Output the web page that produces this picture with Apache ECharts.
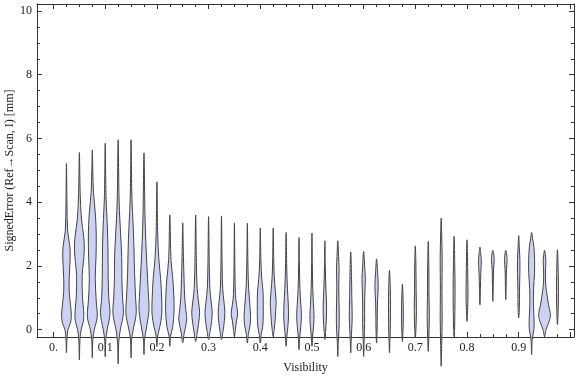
<!DOCTYPE html>
<html>
<head>
<meta charset="utf-8">
<script src="https://cdn.jsdelivr.net/npm/echarts@6/dist/echarts.min.js"></script>
<style>
  html, body { margin: 0; padding: 0; background: #fff; }
  #main { width: 576px; height: 377px; }
</style>
</head>
<body>
<div id="main"></div>
<script>
// violin centres (Visibility bins)
var positions = [0.025, 0.05, 0.075, 0.1, 0.125, 0.15, 0.175, 0.2, 0.225, 0.25,
  0.275, 0.3, 0.325, 0.35, 0.375, 0.4, 0.425, 0.45, 0.475, 0.5,
  0.525, 0.55, 0.575, 0.6, 0.625, 0.65, 0.675, 0.7, 0.725, 0.75,
  0.775, 0.8, 0.825, 0.85, 0.875, 0.9, 0.925, 0.95, 0.975];

// density profile of each violin: [signed error, relative half width]
var profiles = [
  [[-0.73,0],[-0.3,0.5],[0,1.5],[0.2,4],[0.45,5],[0.8,4],[1.2,2.8],[1.6,2.8],[2.2,3.7],[2.6,3.5],[3.1,1.2],[4,0.5],[5.22,0]],
  [[-0.95,0],[-0.3,0.6],[0,1.8],[0.3,4.3],[0.6,4.3],[1.0,3.2],[1.7,2.8],[2.1,4],[2.5,5],[2.9,4.5],[3.5,2],[4.3,0.8],[5.56,0]],
  [[-0.88,0],[-0.3,0.6],[0,2],[0.4,5],[0.9,4],[1.6,3],[2.3,3.8],[3.0,4],[3.6,3.2],[4.3,1.2],[5.0,0.5],[5.64,0]],
  [[-0.85,0],[-0.3,0.6],[0,2],[0.5,4.8],[1.0,3.6],[1.7,3],[2.5,2.8],[3.2,2.2],[4.2,0.8],[5.85,0]],
  [[-1.07,0],[-0.4,0.6],[0,2.2],[0.5,5.3],[1.0,4.5],[1.6,3.8],[2.3,3.6],[3.0,2.5],[4.0,1],[5.96,0]],
  [[-0.88,0],[-0.3,0.6],[0,2.2],[0.5,5.2],[1.0,4.6],[1.8,3.5],[2.5,3],[3.2,2.2],[4.2,0.8],[5.96,0]],
  [[-0.78,0],[-0.3,0.6],[0,2.2],[0.6,5],[1.2,4.3],[2.0,3],[2.8,1.8],[3.6,1],[5.55,0]],
  [[-0.53,0],[-0.2,0.8],[0.1,3],[0.5,5],[1.0,4.8],[1.6,3.8],[2.2,2],[3.0,0.8],[4.64,0]],
  [[-0.52,0],[-0.2,0.8],[0.1,3],[0.6,4.3],[1.1,4],[1.6,3],[2.2,1.2],[3.6,0]],
  [[-0.41,0],[-0.1,1.5],[0.3,4],[0.6,3.2],[1.0,2],[1.6,1.3],[2.3,0.7],[3.35,0]],
  [[-0.37,0],[-0.1,1.5],[0.2,3],[0.55,4],[0.9,2.8],[1.3,1.5],[2.0,0.8],[3.6,0]],
  [[-0.31,0],[-0.05,1.5],[0.25,3],[0.55,3.7],[0.9,2.5],[1.3,1.3],[2.0,0.7],[3.55,0]],
  [[-0.31,0],[-0.05,1.5],[0.25,2.8],[0.55,3.4],[0.9,2.4],[1.3,1.2],[2.0,0.6],[3.57,0]],
  [[-0.21,0],[0,1],[0.3,2.2],[0.5,3.3],[0.8,2],[1.1,1],[1.8,0.5],[3.35,0]],
  [[-0.42,0],[-0.15,1],[0.15,2.8],[0.4,3.3],[0.8,2.5],[1.3,1.3],[2.0,0.6],[3.34,0]],
  [[-0.42,0],[-0.15,1],[0.1,2.5],[0.4,3],[0.8,3],[1.2,2.8],[1.6,1.5],[2.2,0.6],[3.19,0]],
  [[-0.21,0],[0,1],[0.3,2],[0.6,2.5],[0.85,3],[1.2,2.2],[1.7,1],[2.3,0.5],[3.19,0]],
  [[-0.52,0],[-0.2,0.8],[0.1,1.8],[0.4,2.4],[0.8,2.2],[1.3,1.3],[2.0,0.6],[3.05,0]],
  [[-0.63,0],[-0.25,0.7],[0.1,1.8],[0.45,2.4],[0.8,1.8],[1.3,0.9],[2.0,0.4],[2.89,0]],
  [[-0.52,0],[-0.2,0.7],[0.1,1.6],[0.4,2.1],[0.8,1.5],[1.3,0.8],[2.0,0.4],[3.03,0]],
  [[-0.31,0],[-0.05,0.7],[0.3,1.5],[0.8,1.7],[1.3,1],[2.0,0.4],[2.79,0]],
  [[-0.84,0],[-0.4,0.5],[0,1.2],[0.4,1.5],[0.9,1.2],[1.4,1],[1.9,1.3],[2.3,0.8],[2.79,0]],
  [[-0.73,0],[-0.3,0.5],[0,1],[0.4,1.5],[1.0,1.1],[1.7,0.8],[2.44,0]],
  [[-0.84,0],[-0.3,0.5],[0.2,1],[0.8,1],[1.3,1.4],[1.6,1.7],[2.0,1],[2.45,0]],
  [[-0.42,0],[-0.1,0.5],[0.4,0.7],[0.9,1],[1.35,1.7],[1.8,1],[2.22,0]],
  [[-0.73,0],[-0.3,0.5],[0.2,0.9],[0.8,1],[1.3,0.8],[1.86,0]],
  [[-0.37,0],[-0.1,0.5],[0.3,0.9],[0.8,0.8],[1.43,0]],
  [[-0.26,0],[0,0.6],[0.6,1.1],[1.2,0.8],[2.0,0.6],[2.63,0]],
  [[-0.68,0],[-0.3,0.5],[0.4,1.1],[1.0,0.8],[2.0,0.6],[2.77,0]],
  [[-1.15,0],[-0.5,0.5],[0.4,1],[1.2,0.8],[2.3,1],[3.0,0.5],[3.5,0]],
  [[-0.21,0],[0,0.5],[0.6,0.8],[1.2,1],[2.0,0.7],[2.93,0]],
  [[0.26,0],[0.6,0.6],[1.1,1],[1.6,0.8],[2.3,0.5],[2.82,0]],
  [[0.78,0],[1.3,0.5],[1.8,0.9],[2.15,1.4],[2.4,0.8],[2.59,0]],
  [[0.89,0],[1.4,0.4],[1.9,0.7],[2.2,1.4],[2.49,0]],
  [[0.94,0],[1.4,0.4],[1.9,0.7],[2.2,1.3],[2.49,0]],
  [[0.37,0],[0.7,0.7],[1.2,0.8],[1.8,1.2],[2.2,1.2],[2.6,0.6],[2.95,0]],
  [[-0.78,0],[-0.3,0.6],[0,2.3],[0.3,2.5],[0.8,1.8],[1.3,2],[1.8,3],[2.2,3],[2.6,2.3],[2.85,1],[3.05,0]],
  [[-0.21,0],[0,1.5],[0.2,4],[0.45,6],[0.8,4],[1.2,2],[1.5,1],[1.9,1],[2.15,1.4],[2.35,0.8],[2.49,0]],
  [[0.16,0],[0.6,0.7],[1.2,1],[1.8,0.8],[2.51,0]]
];

// axis ticks
var xMajor = [0, 0.1, 0.2, 0.3, 0.4, 0.5, 0.6, 0.7, 0.8, 0.9, 1.0];
var xLabels = ['0.', '0.1', '0.2', '0.3', '0.4', '0.5', '0.6', '0.7', '0.8', '0.9'];
var yMajor = [0, 2, 4, 6, 8, 10];
var yLabels = ['0', '2', '4', '6', '8', '10'];

var xMin = -0.032, xMax = 1.007;
var yMin = -0.23, yMax = 10.22;
var widthScale = 0.0019;   // x data units per unit of relative width

var xMinor = [];
for (var k = 0; k <= 40; k++) {
  if (k % 4 !== 0) xMinor.push(Math.round(k * 0.025 * 1000) / 1000);
}
var yMinor = [];
for (var m = 1; m <= 20; m++) {
  if (m % 4 !== 0) yMinor.push(m * 0.5);
}

var serif = 'Liberation Serif';
var frameColor = '#333';

function xAxisDef(pos, ticks, len, showLine, labels) {
  return {
    type: 'value', position: pos, min: xMin, max: xMax,
    splitLine: { show: false },
    axisLine: { show: showLine, onZero: false, lineStyle: { color: frameColor, width: 1 } },
    axisTick: { show: true, inside: true, length: len, customValues: ticks,
      lineStyle: { color: frameColor, width: 1 } },
    axisLabel: labels ? {
      show: true, customValues: xMajor.slice(0, 10), margin: 5,
      fontFamily: serif, fontSize: 12, color: '#222',
      formatter: function (v) {
        var i = Math.round(v * 10);
        return xLabels[i] !== undefined ? xLabels[i] : '';
      }
    } : { show: false }
  };
}

function yAxisDef(pos, ticks, len, showLine, labels) {
  return {
    type: 'value', position: pos, min: yMin, max: yMax,
    splitLine: { show: false },
    axisLine: { show: showLine, onZero: false, lineStyle: { color: frameColor, width: 1 } },
    axisTick: { show: true, inside: true, length: len, customValues: ticks,
      lineStyle: { color: frameColor, width: 1 } },
    axisLabel: labels ? {
      show: true, customValues: yMajor, margin: 5,
      fontFamily: serif, fontSize: 12, color: '#222',
      formatter: function (v) {
        var i = Math.round(v / 2);
        return yLabels[i] !== undefined ? yLabels[i] : '';
      }
    } : { show: false }
  };
}

var xAxes = [
  xAxisDef('bottom', xMajor, 5, true, true),
  xAxisDef('bottom', xMinor, 3, false, false),
  xAxisDef('top', xMajor, 5, true, false),
  xAxisDef('top', xMinor, 3, false, false)
];
xAxes[0].name = 'Visibility';
xAxes[0].nameLocation = 'middle';
xAxes[0].nameGap = 25;
xAxes[0].nameMoveOverlap = false;
xAxes[0].nameTextStyle = { fontFamily: serif, fontSize: 12, color: '#222' };

var yAxes = [
  yAxisDef('left', yMajor, 5, true, true),
  yAxisDef('left', yMinor, 3, false, false),
  yAxisDef('right', yMajor, 5, true, false),
  yAxisDef('right', yMinor, 3, false, false)
];
yAxes[0].name = 'SignedError (Ref\u2192Scan, I) [mm]';
yAxes[0].nameLocation = 'middle';
yAxes[0].nameGap = 21;
yAxes[0].nameMoveOverlap = false;
yAxes[0].nameTextStyle = { fontFamily: serif, fontSize: 12, color: '#222' };

function renderViolin(params, api) {
  var x = api.value(0);
  var prof = profiles[api.value(1)];
  var pts = [];
  var i;
  for (i = 0; i < prof.length; i++) {
    pts.push(api.coord([x + prof[i][1] * widthScale, prof[i][0]]));
  }
  for (i = prof.length - 2; i > 0; i--) {
    pts.push(api.coord([x - prof[i][1] * widthScale, prof[i][0]]));
  }
  return {
    type: 'polygon',
    shape: { points: pts, smooth: 0.35 },
    style: { fill: '#cbd2f4', stroke: '#444', lineWidth: 1 }
  };
}

var myChart = echarts.init(document.getElementById('main'), null, { renderer: 'canvas' });

var option = {
  backgroundColor: '#ffffff',
  animation: false,
  grid: { left: 37, right: 2, top: 4, bottom: 40, containLabel: false, outerBoundsMode: 'none' },
  xAxis: xAxes,
  yAxis: yAxes,
  series: [
    {
      type: 'custom',
      xAxisIndex: 0,
      yAxisIndex: 0,
      clip: false,
      renderItem: renderViolin,
      encode: { x: 0 },
      data: positions.map(function (p, i) { return [p, i]; })
    }
  ]
};

myChart.setOption(option);
</script>
</body>
</html>
